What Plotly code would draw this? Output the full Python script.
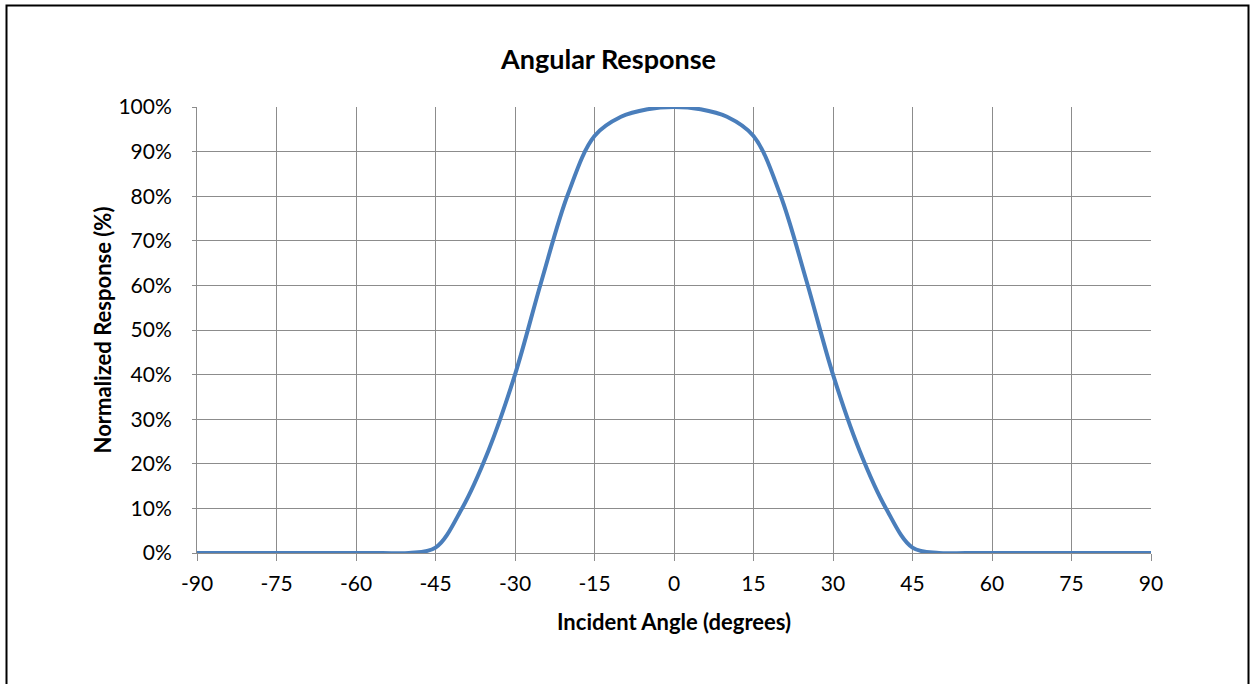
import plotly.graph_objects as go

angles = [-90, -85, -80, -75, -70, -65, -60, -55, -50, -45, -40, -35, -30, -25, -20, -15, -10, -5,
          0, 5, 10, 15, 20, 25, 30, 35, 40, 45, 50, 55, 60, 65, 70, 75, 80, 85, 90]
response = [0, 0, 0, 0, 0, 0, 0, 0, 0, 1.2, 10, 23, 40, 61, 80.5, 93.5, 97.8, 99.5,
            100, 99.5, 97.8, 93.5, 80.5, 61, 40, 23, 10, 1.2, 0, 0, 0, 0, 0, 0, 0, 0, 0]
x_ticks = [-90, -75, -60, -45, -30, -15, 0, 15, 30, 45, 60, 75, 90]
y_ticks = [0, 10, 20, 30, 40, 50, 60, 70, 80, 90, 100]
y_tick_labels = [f"{v}%" for v in y_ticks]

W, H = 1250, 684
L, R, T, B = 197, 1151, 107, 553
pw, ph = R - L, B - T

def px(xp):
    return (xp - L) / pw

def py(yp):
    return (B - yp) / ph

FONT = "Lato, Open Sans, sans-serif"
grid = "#8c8c8c"

fig = go.Figure()
fig.add_trace(go.Scatter(
    x=angles, y=response, mode="lines",
    line=dict(color="#4A7EBB", width=4, shape="spline", smoothing=1.0),
    hoverinfo="x+y", showlegend=False,
))

fig.update_layout(
    width=W, height=H,
    margin=dict(l=L, r=W - R, t=T, b=H - B),
    paper_bgcolor="white", plot_bgcolor="white",
    font=dict(family=FONT, size=21, color="black"),
    title=dict(text="<b>Angular Response</b>", x=608.5 / W,
               xanchor="center", y=1 - 60 / H, yanchor="middle",
               font=dict(family=FONT, size=27, color="black")),
    xaxis=dict(
        range=[-90, 90], tickvals=x_ticks, ticktext=[str(v) for v in x_ticks],
        showgrid=True, gridcolor=grid, gridwidth=1,
        showline=True, linecolor=grid, linewidth=1,
        ticks="outside", ticklen=7, tickcolor=grid,
        zeroline=False, ticklabelstandoff=5,
        title=dict(text="<b>Incident Angle (degrees)</b>", font=dict(family=FONT, size=22), standoff=20),
        tickfont=dict(family=FONT, size=21),
    ),
    yaxis=dict(
        range=[0, 100], tickvals=y_ticks, ticktext=y_tick_labels,
        showgrid=True, gridcolor=grid, gridwidth=1,
        showline=True, linecolor=grid, linewidth=1,
        ticks="outside", ticklen=4, tickcolor=grid,
        zeroline=False, ticklabelstandoff=16,
        title=dict(text="<b>Normalized Response (%)</b>", font=dict(family=FONT, size=22), standoff=0),
        tickfont=dict(family=FONT, size=21),
    ),
    shapes=[dict(type="rect", xref="paper", yref="paper",
                 x0=px(6.5), x1=px(1248.5), y0=py(700), y1=py(5.5),
                 line=dict(color="black", width=2), fillcolor="rgba(0,0,0,0)", layer="above")],
)

fig.write_html("out.html", config={"displayModeBar": False},
               post_script="document.body.style.margin='0';")
